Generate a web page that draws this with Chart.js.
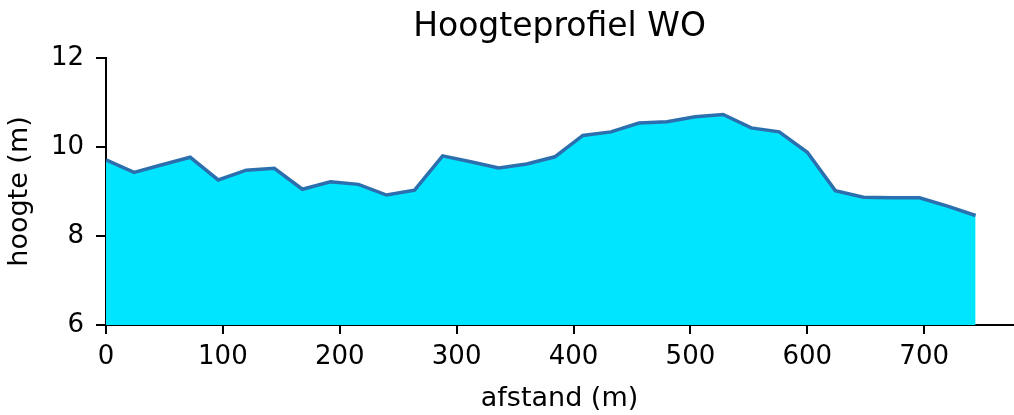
<!DOCTYPE html>
<html>
<head>
<meta charset="utf-8">
<script src="https://cdn.jsdelivr.net/npm/chart.js@4.4.1/dist/chart.umd.min.js"></script>
<style>
  html, body { margin: 0; padding: 0; background: #fff; }
  #wrap { width: 1014px; height: 415px; position: relative; }
</style>
</head>
<body>
<div id="wrap"><canvas id="profileChart"></canvas></div>
<script>
    // distance along the profile (m) and terrain height (m)
    const afstand = [0, 24, 48, 72, 96, 120, 144, 168, 192, 216, 240, 264, 288, 312, 336, 360,
                     384, 408, 432, 456, 480, 504, 528, 552, 576, 600, 624, 648, 672, 696, 720, 744];
    const hoogte = [9.71, 9.43, 9.60, 9.77, 9.26, 9.48, 9.52, 9.05, 9.22, 9.16, 8.92, 9.03, 9.80, 9.67, 9.53, 9.62,
                    9.78, 10.26, 10.34, 10.54, 10.57, 10.68, 10.73, 10.43, 10.34, 9.88, 9.02, 8.87, 8.86, 8.86, 8.67, 8.46];
    const xTicks = [0, 100, 200, 300, 400, 500, 600, 700];
    const yTicks = [6, 8, 10, 12];

    const font = 'DejaVu Sans';

    const points = afstand.map(function (d, i) {
        return { x: d, y: hoogte[i] };
    });

    const ctx = document.getElementById('profileChart');

    new Chart(ctx, {
        type: 'line',
        data: {
            datasets: [{
                data: points,
                borderColor: '#2b6fae',
                borderWidth: 3.5,
                backgroundColor: '#00e5ff',
                fill: 'start',
                pointRadius: 0,
                tension: 0
            }]
        },
        options: {
            responsive: true,
            maintainAspectRatio: false,
            animation: false,
            layout: { padding: { top: 0, right: 1, bottom: 0, left: 0 } },
            plugins: {
                legend: { display: false },
                tooltip: { enabled: false },
                title: {
                    display: true,
                    fullSize: false,
                    text: 'Hoogteprofiel WO',
                    color: '#000',
                    font: { family: font, size: 33, weight: 'normal' },
                    padding: { top: 8, bottom: 10.4 }
                }
            },
            scales: {
                x: {
                    type: 'linear',
                    min: 0,
                    max: 776,
                    afterFit: function (scale) { scale.height = 90; },
                    afterBuildTicks: function (scale) {
                        scale.ticks = xTicks.map(function (v) { return { value: v }; });
                    },
                    grid: { display: true, drawOnChartArea: false, drawTicks: true, tickLength: 9, color: '#000', lineWidth: 2 },
                    border: { display: true, color: '#000', width: 2 },
                    ticks: { color: '#000', font: { family: font, size: 26 }, padding: 8, maxRotation: 0, autoSkip: false },
                    title: {
                        display: true,
                        text: 'afstand (m)',
                        color: '#000',
                        font: { family: font, size: 27 },
                        padding: { top: 0, bottom: 0 }
                    }
                },
                y: {
                    min: 6,
                    max: 12,
                    afterFit: function (scale) { scale.width = 106; },
                    afterBuildTicks: function (scale) {
                        scale.ticks = yTicks.map(function (v) { return { value: v }; });
                    },
                    grid: { display: true, drawOnChartArea: false, drawTicks: true, tickLength: 10, color: '#000', lineWidth: 2 },
                    border: { display: true, color: '#000', width: 2 },
                    ticks: { color: '#000', font: { family: font, size: 26 }, padding: 12 },
                    title: {
                        display: true,
                        text: 'hoogte (m)',
                        color: '#000',
                        font: { family: font, size: 27 },
                        padding: { top: 4, bottom: 0 }
                    }
                }
            }
        }
    });
</script>
</body>
</html>
